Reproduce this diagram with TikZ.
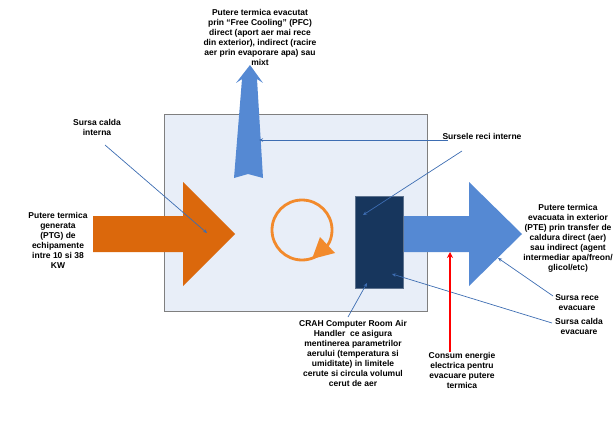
\documentclass[tikz,border=0pt]{standalone}
\usepackage{fontspec}
\setmainfont{Liberation Sans}
\usetikzlibrary{arrows.meta}
\definecolor{orangearrow}{HTML}{DB680C}
\definecolor{orangering}{HTML}{F28A2C}
\definecolor{bluearrow}{HTML}{5589D3}
\definecolor{darkbox}{HTML}{17365D}
\definecolor{roomfill}{HTML}{E8EEF8}
\definecolor{roomdraw}{HTML}{7F7F7F}
\definecolor{pointer}{HTML}{3D6DB2}
\tikzset{
  lbl/.style={font=\fontsize{8.5}{10}\selectfont\bfseries, align=center, inner sep=0pt, text=black},
  pointerline/.style={draw=pointer, line width=0.7pt, -{Stealth[length=4pt,width=3.5pt]}},
}
\begin{document}
\begin{tikzpicture}[x=1pt,y=-1pt]
\useasboundingbox (0,0) rectangle (615,433);
% room
\draw[fill=roomfill, draw=roomdraw, line width=1pt] (164,115) rectangle (427,311);
% top arrow (free cooling)
\fill[bluearrow] (250,65) -- (263,83) -- (257,79) -- (263,178) -- (248,174) -- (234,178) -- (242,79) -- (236,83) -- cycle;
% orange input arrow
\fill[orangearrow] (93,216) -- (183,216) -- (183,182) -- (235,234) -- (183,286) -- (183,252) -- (93,252) -- cycle;
% blue output arrow
\fill[bluearrow] (400,216) -- (469,216) -- (469,182) -- (522,234) -- (469,286) -- (469,252) -- (400,252) -- cycle;
% CRAH unit
\node[draw=darkbox!70!white, fill=darkbox, line width=0.6pt, minimum width=48pt, minimum height=92pt, inner sep=0pt] (crah) at (379,242) {};
% circulation ring
\draw[orangering, line width=2.8pt] (302,230) circle[radius=30];
\fill[orangering] (312,259) -- (320,237) -- (335,253) -- cycle;
% labels
\node[lbl] (ptc) at (260,37.2) {Putere termica evacutat\\prin “Free Cooling” (PFC)\\direct (aport aer mai rece\\din exterior), indirect (racire\\aer prin evaporare apa) sau\\mixt};
\node[lbl] (sci) at (97,127) {Sursa calda\\interna};
\node[lbl] (ptg) at (58,240) {Putere termica\\generata\\(PTG) de\\echipamente\\intre 10 si 38\\KW};
\node[lbl] (sri) at (482,136) {Sursele reci interne};
\node[lbl] (pte) at (568,238) {Putere termica\\evacuata in exterior\\(PTE) prin transfer de\\caldura direct (aer)\\sau indirect (agent\\intermediar apa/freon/\\glicol/etc)};
\node[lbl] (sre) at (577,302.5) {Sursa rece\\evacuare};
\node[lbl] (sce) at (579,326) {Sursa calda\\evacuare};
\node[lbl] (crahtxt) at (353,353) {CRAH Computer Room Air\\Handler~~ce asigura\\mentinerea parametrilor\\aerului (temperatura si\\umiditate) in limitele\\cerute si circula volumul\\cerut de aer};
\node[lbl] (consum) at (462,370.5) {Consum energie\\electrica pentru\\evacuare putere\\termica};
% pointer coordinates
\coordinate (sciS) at (105,145);
\coordinate (sciE) at (207,233);
\coordinate (sriS1) at (448,140);
\coordinate (sriE1) at (259,140);
\coordinate (sriS2) at (462,151);
\coordinate (sriE2) at (363,215);
\coordinate (sreS) at (553,296);
\coordinate (sreE) at (498,258);
\coordinate (sceS) at (552,323);
\coordinate (sceE) at (392,274);
\coordinate (crahS) at (348,317);
\coordinate (crahE) at (367,283);
\coordinate (redS) at (450,352);
\coordinate (redE) at (450,252);
% pointers
\draw[pointerline] (sciS) -- (sciE);
\draw[pointerline] (sriS1) -- (sriE1);
\draw[pointerline] (sriS2) -- (sriE2);
\draw[pointerline] (sreS) -- (sreE);
\draw[pointerline] (sceS) -- (sceE);
\draw[pointerline] (crahS) -- (crahE);
\draw[red, line width=1.6pt, -{Stealth[length=6pt,width=6pt]}] (redS) -- (redE);
\end{tikzpicture}
\end{document}
